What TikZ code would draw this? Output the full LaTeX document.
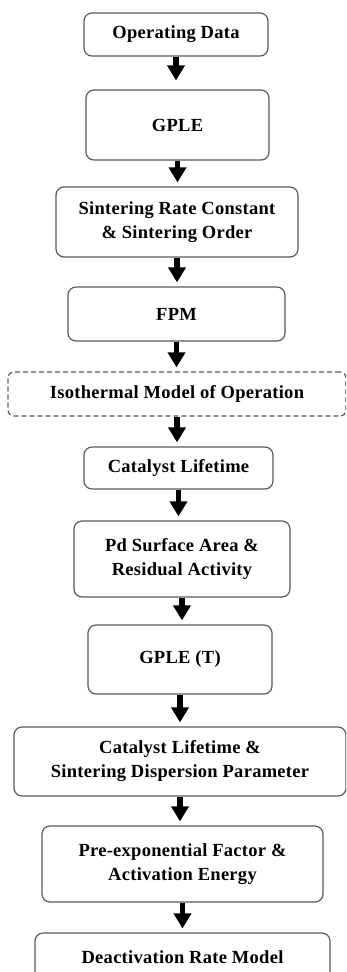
\documentclass[tikz,border=0pt]{standalone}
\usepackage{fontspec}
\setmainfont{Liberation Serif}[LetterSpace=1.5]
\usetikzlibrary{arrows.meta}
\definecolor{boxgray}{HTML}{5A5A5A}
\begin{document}
\begin{tikzpicture}[x=1pt,y=-1pt,
  box/.style={draw=boxgray, line width=1.2pt, rounded corners=8pt, align=center,
    inner sep=0pt, font=\fontsize{18.5}{24}\selectfont\bfseries, text=black},
  dbox/.style={box, dashed, dash pattern=on 5pt off 3pt, rounded corners=6pt},
  flow/.style={line width=5.5pt, -{Triangle[width=17pt,length=15pt]}, shorten >=4pt}
]
\clip (0,0) rectangle (346,972);
\fill[white] (0,0) rectangle (346,972);
\node[box, minimum width=184, minimum height=43] (n1) at (176,34.5) {Operating Data};
\node[box, minimum width=183, minimum height=70] (n2) at (177.5,125) {GPLE};
\node[box, minimum width=242, minimum height=70] (n3) at (177,222) {Sintering Rate Constant\\\& Sintering Order};
\node[box, minimum width=217, minimum height=54] (n4) at (176.5,314) {FPM};
\node[dbox, minimum width=338, minimum height=44] (n5) at (177,394) {Isothermal Model of Operation};
\node[box, minimum width=189, minimum height=42] (n6) at (178.5,468) {Catalyst Lifetime};
\node[box, minimum width=216, minimum height=76] (n7) at (182,559) {Pd Surface Area \&\\Residual Activity};
\node[box, minimum width=184, minimum height=69] (n8) at (180,659.5) {GPLE (T)};
\node[box, minimum width=332, minimum height=69] (n9) at (180,761.5) {Catalyst Lifetime \&\\Sintering Dispersion Parameter};
\node[box, minimum width=281, minimum height=76] (n10) at (182.5,864) {Pre-exponential Factor \&\\Activation Energy};
\node[box, minimum width=295, minimum height=48] (n11) at (182.5,957) {Deactivation Rate Model};
\draw[flow, shorten >=9pt] (n1.south) -- (n1.south |- n2.north);
\draw[flow] (n2.south) -- (n2.south |- n3.north);
\draw[flow] (n3.south) -- (n3.south |- n4.north);
\draw[flow] (n4.south) -- (n4.south |- n5.north);
\draw[flow] (n5.south) -- (n5.south |- n6.north);
\draw[flow] (n6.south) -- (n6.south |- n7.north);
\draw[flow] (n7.south) -- (n7.south |- n8.north);
\draw[flow] (n8.south) -- (n8.south |- n9.north);
\draw[flow] (n9.south) -- (n9.south |- n10.north);
\draw[flow] (n10.south) -- (n10.south |- n11.north);
\end{tikzpicture}
\end{document}
